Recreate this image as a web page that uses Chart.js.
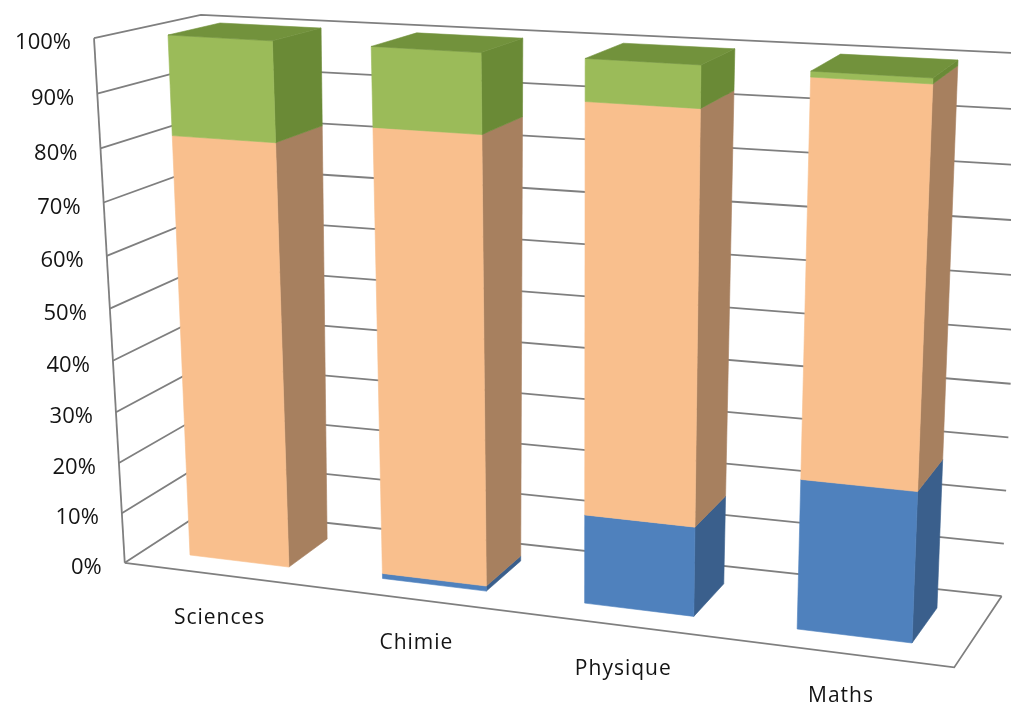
<!DOCTYPE html>
<html>
<head>
<meta charset="utf-8">
<script src="https://cdn.jsdelivr.net/npm/chart.js@4.4.0/dist/chart.umd.min.js"></script>
<style>
html, body { margin: 0; padding: 0; background: #fff; }
</style>
</head>
<body>
<canvas id="chart" width="1011" height="705"></canvas>
<script>
// Data
let categories = ['Sciences', 'Chimie', 'Physique', 'Maths'];
let blueValues = [0, 1, 17, 28];
let orangeValues = [81.5, 84.5, 75.5, 71];
let greenValues = [18.5, 14.5, 7.5, 1];
let yTicks = [0, 10, 20, 30, 40, 50, 60, 70, 80, 90, 100];

// Colours: front, side, top
let blueColors = ['#4F81BD', '#3A5F8C', '#43699A'];
let orangeColors = ['#F9BF8D', '#A7805F', '#D9A679'];
let greenColors = ['#9BBB59', '#6A8A36', '#72923C'];

// ////////////////////////////
// 3D frame (camera calibration of the plot box)
// ////////////////////////////
let frameUV = [[0.06, 1], [0.94, 1], [0.06, 0], [0.94, 0]];
let frontFrame = [[168, 35], [933, 78], [190, 555], [912, 643]];
let backFrame = [[220, 23], [958, 60], [230, 528], [937, 608]];
let wallLeft = 0, wallRight = 1, floorFront = -0.5, wallBack = 1.5;

function solveHomography(src, dst) {
    let A = [], b = [];
    for (let i = 0; i < 4; i++) {
        let u = src[i][0], v = src[i][1], x = dst[i][0], y = dst[i][1];
        A.push([u, v, 1, 0, 0, 0, -u * x, -v * x]); b.push(x);
        A.push([0, 0, 0, u, v, 1, -u * y, -v * y]); b.push(y);
    }
    for (let c = 0; c < 8; c++) {
        let p = c;
        for (let r = c + 1; r < 8; r++) if (Math.abs(A[r][c]) > Math.abs(A[p][c])) p = r;
        let t = A[c]; A[c] = A[p]; A[p] = t;
        let tb = b[c]; b[c] = b[p]; b[p] = tb;
        for (let r = 0; r < 8; r++) {
            if (r === c) continue;
            let f = A[r][c] / A[c][c];
            for (let k = c; k < 8; k++) A[r][k] -= f * A[c][k];
            b[r] -= f * b[c];
        }
    }
    return b.map((val, i) => val / A[i][i]);
}

function applyH(h, u, v) {
    let w = h[6] * u + h[7] * v + 1;
    return [(h[0] * u + h[1] * v + h[2]) / w, (h[3] * u + h[4] * v + h[5]) / w];
}

let H0 = solveHomography(frameUV, frontFrame);
let H1 = solveHomography(frameUV, backFrame);

// u, v in the flat plot, z = depth (0 front of bars, 1 back of bars)
function project(u, v, z) {
    let a = applyH(H0, u, v), b = applyH(H1, u, v);
    return [a[0] + z * (b[0] - a[0]), a[1] + z * (b[1] - a[1])];
}

function poly(ctx, pts, color) {
    ctx.beginPath();
    ctx.moveTo(pts[0][0], pts[0][1]);
    for (let i = 1; i < pts.length; i++) ctx.lineTo(pts[i][0], pts[i][1]);
    ctx.closePath();
    ctx.fillStyle = color;
    ctx.fill();
    ctx.strokeStyle = color;
    ctx.lineWidth = 0.6;
    ctx.stroke();
}

function line(ctx, pts) {
    ctx.beginPath();
    ctx.moveTo(pts[0][0], pts[0][1]);
    for (let i = 1; i < pts.length; i++) ctx.lineTo(pts[i][0], pts[i][1]);
    ctx.stroke();
}

let bars3d = {
    id: 'bars3d',
    beforeDatasetsDraw() { return false; },
    afterDraw(chart) {
        let ctx = chart.ctx;
        let area = chart.chartArea;
        let xs = chart.scales.x, ys = chart.scales.y;
        let toU = px => (px - area.left) / (area.right - area.left);
        let toV = py => (area.bottom - py) / (area.bottom - area.top);

        ctx.save();

        // walls and gridlines
        ctx.strokeStyle = '#7F7F7F';
        ctx.lineWidth = 1.8;
        yTicks.forEach(t => {
            let v = toV(ys.getPixelForValue(t));
            line(ctx, [project(wallLeft, v, floorFront), project(wallLeft, v, wallBack), project(wallRight, v, wallBack)]);
        });
        line(ctx, [project(wallLeft, 0, floorFront), project(wallLeft, 1, floorFront)]);
        line(ctx, [project(wallLeft, 0, floorFront), project(wallRight, 0, floorFront), project(wallRight, 0, wallBack)]);

        // bars
        let colorSets = [blueColors, orangeColors, greenColors];
        categories.forEach((c, i) => {
            let lastTop = null;
            chart.data.datasets.forEach((ds, d) => {
                let el = chart.getDatasetMeta(d).data[i];
                if (!el || ds.data[i] <= 0) return;
                let u0 = toU(el.x - el.width / 2), u1 = toU(el.x + el.width / 2);
                let vb = toV(el.base), vt = toV(el.y);
                let col = colorSets[d];
                poly(ctx, [project(u1, vb, 0), project(u1, vb, 1), project(u1, vt, 1), project(u1, vt, 0)], col[1]);
                poly(ctx, [project(u0, vb, 0), project(u1, vb, 0), project(u1, vt, 0), project(u0, vt, 0)], col[0]);
                lastTop = [u0, u1, vt, col[2]];
            });
            if (lastTop) {
                let [u0, u1, vt, col] = lastTop;
                poly(ctx, [project(u0, vt, 0), project(u1, vt, 0), project(u1, vt, 1), project(u0, vt, 1)], col);
            }
        });

        // y tick labels
        ctx.fillStyle = '#141414';
        ctx.font = '22px "Open Sans"';
        ctx.textAlign = 'right';
        ctx.textBaseline = 'middle';
        yTicks.forEach(t => {
            let v = toV(ys.getPixelForValue(t));
            let p = project(wallLeft, v, floorFront);
            ctx.fillText(t + '%', p[0] - 23, p[1] + 5);
        });

        // category labels
        ctx.font = '21px "Open Sans"';
        ctx.letterSpacing = '1px';
        ctx.textAlign = 'center';
        categories.forEach((c, i) => {
            let p = project(toU(xs.getPixelForValue(i)), 0, floorFront);
            ctx.fillText(c, p[0], p[1] + 43);
        });

        ctx.restore();
    }
};

var ctxChart = document.getElementById('chart').getContext('2d');
var chart3d = new Chart(ctxChart, {
    type: 'bar',
    data: {
        labels: categories,
        datasets: [
            { label: 'Série 1', data: blueValues, backgroundColor: blueColors[0] },
            { label: 'Série 2', data: orangeValues, backgroundColor: orangeColors[0] },
            { label: 'Série 3', data: greenValues, backgroundColor: greenColors[0] }
        ]
    },
    options: {
        responsive: false,
        animation: false,
        devicePixelRatio: 1,
        categoryPercentage: 1,
        barPercentage: 0.52,
        layout: { padding: 0 },
        plugins: { legend: { display: false }, tooltip: { enabled: false } },
        scales: {
            x: { stacked: true, display: false },
            y: { stacked: true, display: false, min: 0, max: 100 }
        }
    },
    plugins: [bars3d]
});
</script>
</body>
</html>
